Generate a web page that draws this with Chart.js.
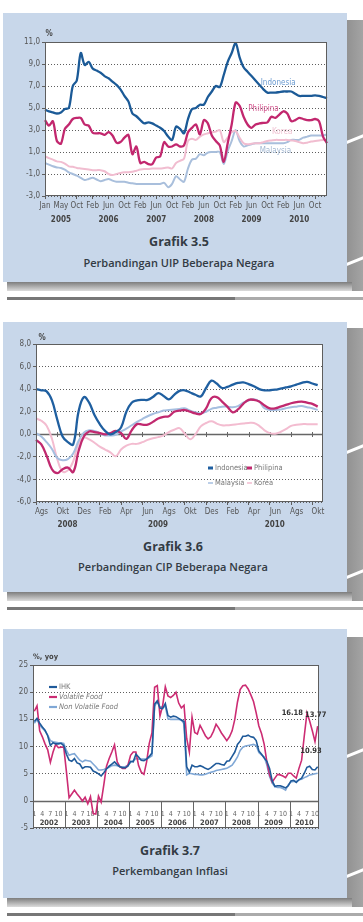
<!DOCTYPE html>
<html lang="id">
<head>
<meta charset="UTF-8">
<title>Grafik 3.5 - 3.7</title>
<style>
    body { margin: 0; width: 363px; height: 922px; background: #fff; position: relative; overflow: hidden; font-family: 'Open Sans', sans-serif; }
    .panel { position: absolute; left: 3px; width: 344px; background: #c8d7ea; }
    .shade { position: absolute; left: 340px; width: 23px; background: linear-gradient(to right, #8a8a8a, #a4a4a4); overflow: hidden; }
    .shade-b { position: absolute; left: 7px; width: 345px; height: 9px; background: linear-gradient(to bottom, #7d7d7d, #dcdcdc); }
    .streak { position: absolute; left: -6px; width: 40px; height: 3px; background: #fff; transform: rotate(-22deg); }
    .rule { position: absolute; left: 7px; width: 356px; height: 3px; background: linear-gradient(to right, #777 0, #777 64%, #ababab 64%, #ababab 100%); }
    .chart { position: absolute; }
    .caption { position: absolute; width: 300px; text-align: center; color: #333b44; font-weight: 700; font-size: 12.5px; line-height: 16px; }
    .subcaption { position: absolute; width: 300px; text-align: center; color: #333b44; font-weight: 600; font-size: 11px; line-height: 14px; }
</style>
</head>
<body>

<!-- Grafik 3.5 -->
<div class="shade" style="top:20px;height:271px"><div class="streak" style="top:118px"></div><div class="streak" style="top:240px"></div></div>
<div class="shade-b" style="top:282px"></div>
<div class="panel" style="top:13px;height:269px"></div>
<div class="rule" style="top:297px"></div>
<div class="chart" style="left:4px;top:28px"><canvas id="uipChart" width="340" height="200"></canvas></div>
<div class="caption" style="left:29px;top:234px">Grafik 3.5</div>
<div class="subcaption" style="left:29px;top:256px">Perbandingan UIP Beberapa Negara</div>

<!-- Grafik 3.6 -->
<div class="shade" style="top:328px;height:273px"><div class="streak" style="top:120px"></div><div class="streak" style="top:245px"></div></div>
<div class="shade-b" style="top:592px"></div>
<div class="panel" style="top:322px;height:270px"></div>
<div class="rule" style="top:607px"></div>
<div class="chart" style="left:4px;top:330px"><canvas id="cipChart" width="340" height="205"></canvas></div>
<div class="caption" style="left:23px;top:539px">Grafik 3.6</div>
<div class="subcaption" style="left:23px;top:560px">Perbandingan CIP Beberapa Negara</div>

<!-- Grafik 3.7 -->
<div class="shade" style="top:637px;height:270px"><div class="streak" style="top:115px"></div><div class="streak" style="top:235px"></div></div>
<div class="shade-b" style="top:898px"></div>
<div class="panel" style="top:629px;height:269px"></div>
<div class="rule" style="top:913px"></div>
<div class="chart" style="left:4px;top:650px"><canvas id="inflChart" width="322" height="185"></canvas></div>
<div class="caption" style="left:20px;top:843px">Grafik 3.7</div>
<div class="subcaption" style="left:20px;top:864px">Perkembangan Inflasi</div>

<script src="https://cdn.jsdelivr.net/npm/chart.js@4"></script>
<script>
    // ---------- Grafik 3.5 : UIP (bulanan, Jan 2005 - Des 2010) ----------
    const uipYears = ['2005', '2006', '2007', '2008', '2009', '2010'];
    const uipTicks = ['Jan', 'May', 'Oct', 'Feb', 'Jun', 'Oct', 'Feb', 'Jun', 'Oct', 'Feb', 'Jun', 'Oct', 'Feb', 'Jun', 'Oct', 'Feb', 'Jun', 'Oct'];
    const uipIndonesia = [4.85, 4.7, 4.6, 4.5, 4.6, 4.9, 5.0, 7.0, 7.5, 10.0, 8.9, 9.2,
        8.6, 8.4, 8.2, 7.9, 7.7, 7.4, 7.1, 6.7, 6.1, 5.6, 4.5, 4.25,
        3.9, 3.6, 3.7, 3.6, 3.4, 3.2, 2.9, 2.4, 2.1, 3.3, 3.1, 2.7,
        4.0, 4.9, 5.0, 5.3, 5.3, 6.0, 6.5, 7.0, 6.9, 8.0, 9.2, 10.0,
        10.9, 9.6, 8.7, 8.3, 7.9, 7.5, 7.1, 6.7, 6.4, 6.4, 6.4, 6.45,
        6.5, 6.5, 6.5, 6.3, 6.1, 6.1, 6.1, 6.1, 6.15, 6.1, 6.0, 5.9];
    const uipPhilipina = [3.9, 3.4, 3.8, 2.0, 1.75, 3.1, 3.5, 4.0, 4.1, 4.1, 3.5, 3.4,
        2.75, 2.7, 2.7, 2.55, 2.8, 2.5, 1.85, 1.9, 2.3, 2.55, 0.8, 1.5,
        0.0, 0.1, -0.1, -0.1, 0.5, 0.6, 1.9, 1.5, 1.5, 1.7, 1.5, 1.6,
        2.8, 3.2, 3.5, 2.6, 3.9, 3.6, 2.5, 2.0, 1.6, 0.1, 1.8, 3.5,
        5.5, 5.2, 4.2, 3.5, 3.2, 3.5, 3.6, 3.65, 3.7, 4.2, 4.1, 4.4,
        4.7, 4.5, 3.8, 3.9, 4.1, 4.0, 3.9, 3.9, 4.0, 3.8, 2.4, 1.8];
    const uipKorea = [0.6, 0.45, 0.3, 0.15, 0.1, -0.05, -0.3, -0.35, -0.45, -0.5, -0.55, -0.6,
        -0.65, -0.65, -0.65, -0.75, -1.0, -1.1, -1.0, -0.9, -0.85, -0.85, -0.8, -0.7,
        -0.6, -0.55, -0.55, -0.5, -0.5, -0.5, -0.45, -0.4, -0.5, 0.0, 0.2, 0.4,
        2.0, 2.2, 2.1, 2.4, 2.6, 2.7, 2.8, 2.85, 3.0, 1.9, 2.3, 2.8,
        2.9, 2.3, 1.8, 1.7, 1.75, 1.8, 1.8, 1.9, 2.0, 2.05, 2.1, 2.1,
        2.1, 2.1, 2.05, 2.0, 1.9, 1.8, 1.85, 1.95, 2.0, 2.05, 2.1, 2.1];
    const uipMalaysia = [0.0, -0.15, -0.3, -0.4, -0.45, -0.6, -0.85, -1.0, -1.15, -1.35, -1.55, -1.45,
        -1.35, -1.5, -1.65, -1.55, -1.45, -1.6, -1.7, -1.7, -1.7, -1.8, -1.85, -1.9,
        -1.9, -1.9, -1.9, -1.9, -1.9, -1.9, -1.8, -2.2, -1.9, -1.2, -1.5, -1.7,
        -0.5, 0.3, 0.4, 0.8, 0.7, 0.95, 1.0, 1.0, 1.0, -0.1, 1.1, 2.0,
        3.0, 2.0, 1.5, 1.6, 1.7, 1.8, 1.8, 1.8, 1.8, 1.8, 1.8, 1.8,
        1.8, 1.9, 2.1, 2.1, 2.1, 2.3, 2.4, 2.5, 2.5, 2.5, 2.5, 2.6];

    // ---------- Grafik 3.6 : CIP (setengah bulanan, Ags 2008 - Okt 2010) ----------
    const cipYears = ['2008', '2009', '2010'];
    const cipTicks = ['Ags', 'Okt', 'Des', 'Feb', 'Apr', 'Jun', 'Ags', 'Okt', 'Des', 'Feb', 'Apr', 'Jun', 'Ags', 'Okt'];
    const cipIndonesia = [4.0, 3.9, 3.8, 3.0, 1.3, -0.2, -0.7, -0.9, 2.0, 3.3,
        2.8, 1.7, 0.9, 0.3, 0.0, 0.2, 0.6, 2.0, 2.8, 3.0,
        3.05, 3.05, 3.3, 3.65, 3.4, 3.1, 3.5, 3.85, 3.9, 3.7,
        3.5, 3.35, 4.1, 4.75, 4.5, 4.1, 4.2, 4.4, 4.55, 4.6,
        4.45, 4.25, 4.0, 3.9, 3.9, 3.95, 4.05, 4.15, 4.25, 4.4,
        4.55, 4.65, 4.5, 4.35];
    const cipPhilipina = [-0.5, -0.9, -1.9, -3.1, -3.45, -3.1, -2.95, -3.35, -1.5, -0.2,
        0.25, 0.2, 0.1, 0.0, 0.1, 0.3, 0.1, -0.4, 0.35, 0.9,
        0.85, 0.85, 1.1, 1.4, 1.55, 1.6, 2.0, 2.1, 2.15, 2.0,
        1.85, 1.8, 2.3, 3.2, 3.3, 2.9, 2.45, 1.95, 2.2, 2.7,
        3.05, 3.05, 2.9, 2.55, 2.3, 2.3, 2.45, 2.6, 2.75, 2.85,
        2.9, 2.8, 2.7, 2.45];
    const cipMalaysia = [0.1, -0.2, -0.7, -1.3, -2.1, -2.3, -2.2, -1.7, -0.6, 0.15,
        0.35, 0.3, 0.1, -0.1, -0.1, -0.05, 0.25, 0.5, 0.8, 1.1,
        1.35, 1.6, 1.8, 1.95, 2.1, 2.15, 2.2, 2.25, 2.3, 2.1,
        1.95, 1.85, 2.0, 2.25, 2.35, 2.45, 2.45, 2.4, 2.5, 2.8,
        3.0, 3.1, 2.9, 2.3, 2.15, 2.15, 2.2, 2.3, 2.4, 2.45,
        2.5, 2.4, 2.3, 2.15];
    const cipKorea = [1.4, 1.2, 0.75, -0.4, -2.2, -3.3, -3.2, -2.4, -0.8, -0.3,
        -0.45, -0.75, -1.1, -1.35, -1.6, -1.95, -1.35, -1.0, -0.85, -0.85,
        -0.7, -0.5, -0.35, -0.25, -0.1, 0.2, 0.4, 0.55, 0.05, -0.45,
        0.0, 0.7, 1.0, 1.15, 0.95, 0.8, 0.8, 0.85, 0.9, 0.95,
        1.0, 1.0, 0.75, 0.35, 0.1, 0.05, 0.2, 0.45, 0.75, 0.85,
        0.9, 0.9, 0.9, 0.9];

    // ---------- Grafik 3.7 : Inflasi (% yoy, Jan 2002 - Nov 2010) ----------
    const inflYears = ['2002', '2003', '2004', '2005', '2006', '2007', '2008', '2009', '2010'];
    const inflTicks = ['1', '4', '7', '10'];
    const ihk = [14.6, 15.2, 14.3, 13.6, 13.0, 12.0, 10.2, 10.7, 10.5, 10.5, 10.6, 10.2,
        8.6, 7.5, 7.3, 7.8, 7.0, 6.8, 6.0, 6.3, 6.3, 6.2, 5.5, 5.3,
        5.0, 4.6, 5.2, 5.9, 6.4, 6.8, 7.2, 6.7, 6.3, 6.1, 6.1, 6.4,
        7.3, 7.2, 8.6, 8.1, 7.5, 7.4, 7.7, 8.2, 8.8, 17.8, 18.4, 17.1,
        17.0, 17.9, 15.7, 15.4, 15.6, 15.5, 15.2, 14.9, 14.6, 6.3, 5.3, 6.6,
        6.3, 6.3, 6.5, 6.3, 6.0, 5.8, 6.1, 6.5, 6.9, 6.9, 6.7, 6.6,
        7.3, 7.4, 8.2, 9.0, 10.4, 11.0, 11.9, 11.9, 12.1, 11.8, 11.7, 11.1,
        9.2, 8.6, 7.9, 7.3, 6.0, 3.7, 2.7, 2.8, 2.8, 2.6, 2.4, 2.8,
        3.7, 3.8, 3.4, 3.9, 4.2, 5.1, 6.2, 6.4, 5.8, 5.7, 6.3];
    const volatileFood = [16.5, 17.5, 12.9, 11.8, 10.5, 9.4, 7.1, 9.0, 10.4, 9.8, 9.9, 9.9,
        5.4, 0.6, 1.3, 2.0, 1.3, 0.7, 0.0, 0.7, -0.5, 0.8, -2.3, -2.4,
        0.9, -0.2, 3.0, 6.4, 7.8, 9.0, 10.3, 7.2, 6.3, 6.0, 6.0, 6.6,
        8.4, 9.0, 9.0, 6.5, 5.3, 4.9, 7.2, 10.6, 12.5, 20.9, 21.2, 15.6,
        17.5, 21.0, 19.3, 19.0, 19.4, 20.0, 18.0, 17.1, 17.6, 11.5, 9.0, 15.4,
        12.6, 12.3, 13.9, 13.0, 12.0, 11.4, 11.8, 12.8, 14.1, 13.4, 12.5, 11.8,
        11.1, 11.8, 12.9, 15.0, 18.2, 20.5, 21.2, 21.3, 20.6, 19.5, 18.3, 16.2,
        13.8, 12.4, 10.4, 7.2, 4.8, 3.5, 4.2, 4.9, 4.8, 4.6, 4.3, 5.1,
        5.1, 4.6, 4.2, 6.0, 7.5, 12.0, 16.18, 14.7, 12.9, 10.93, 13.77];
    const nonVolatileFood = [14.3, 15.0, 13.9, 13.4, 12.9, 12.1, 11.1, 10.9, 10.8, 10.7, 10.7, 10.6,
        9.3, 8.4, 8.6, 8.7, 8.1, 7.5, 7.2, 7.5, 7.4, 7.3, 6.8, 6.3,
        5.7, 5.7, 5.8, 6.0, 6.2, 6.5, 6.6, 6.5, 6.3, 6.3, 6.3, 6.6,
        7.1, 7.4, 7.8, 7.7, 7.7, 7.7, 7.7, 8.0, 8.3, 17.4, 18.3, 17.3,
        17.3, 17.4, 15.1, 15.0, 15.0, 15.0, 15.0, 14.9, 14.2, 4.8, 5.1, 5.0,
        4.9, 4.9, 4.8, 4.8, 4.9, 5.1, 5.3, 5.4, 5.6, 5.7, 5.8, 5.9,
        6.0, 6.3, 6.6, 7.3, 8.1, 9.3, 9.9, 10.1, 10.2, 10.3, 10.4, 10.2,
        8.9, 8.5, 8.1, 6.6, 4.5, 3.3, 2.6, 2.5, 2.5, 2.3, 2.0, 3.0,
        3.5, 3.6, 3.6, 3.9, 4.0, 4.3, 4.5, 4.8, 4.9, 5.0, 5.1];
    // angka yang ditulis di grafik (indeks bulan pada seri Volatile Food)
    const inflNotes = [
        { index: 102, text: '16.18', align: 'right', dx: -4, dy: 0 },
        { index: 106, text: '13.77', align: 'center', dx: -2, dy: -11 },
        { index: 105, text: '10.93', align: 'center', dx: -4, dy: 10 }
    ];

    const monthNames = ['Jan', 'Feb', 'Mar', 'Apr', 'Mei', 'Jun', 'Jul', 'Ags', 'Sep', 'Okt', 'Nov', 'Des'];
    const FONT = "'Liberation Sans Narrow', 'DejaVu Sans Condensed', 'Liberation Sans', sans-serif";
    const GRID = '#5e5e5e';

    Chart.defaults.font.family = FONT;
    Chart.defaults.font.size = 8;
    Chart.defaults.color = '#555';

    // kategori bulanan / setengah bulanan
    function monthLabels(firstYear, firstMonth, count) {
        const out = [];
        for (let i = 0; i < count; i++) {
            const m = firstMonth + i;
            out.push(monthNames[m % 12] + ' ' + (firstYear + Math.floor(m / 12)));
        }
        return out;
    }
    const uipCats = monthLabels(2005, 0, uipIndonesia.length);
    const inflCats = monthLabels(2002, 0, ihk.length);
    const cipCats = [];
    monthLabels(2008, 7, 28).forEach(m => { cipCats.push(m + ' I', m + ' II'); });
    cipCats.length = cipIndonesia.length + 1;

    function serie(label, data, color, width, tension) {
        return { label: label, data: data, borderColor: color, backgroundColor: color,
                 borderWidth: width, pointRadius: 0, tension: tension, fill: false };
    }

    function drawText(ctx, str, x, y, font, color, align) {
        ctx.save();
        ctx.font = font;
        ctx.fillStyle = color;
        ctx.textAlign = align || 'center';
        ctx.textBaseline = 'middle';
        ctx.fillText(str, x, y);
        ctx.restore();
    }

    function hLine(ctx, x1, x2, y, color, width) {
        ctx.save();
        ctx.strokeStyle = color;
        ctx.lineWidth = width;
        ctx.beginPath();
        ctx.moveTo(x1, y);
        ctx.lineTo(x2, y);
        ctx.stroke();
        ctx.restore();
    }

    // latar putih dan bingkai area plot
    const framePlugin = {
        id: 'frame',
        beforeDraw(chart) {
            const a = chart.chartArea;
            chart.ctx.save();
            chart.ctx.fillStyle = '#fff';
            chart.ctx.fillRect(a.left, a.top, a.right - a.left, a.bottom - a.top);
            chart.ctx.restore();
        },
        afterDatasetsDraw(chart) {
            const a = chart.chartArea, ctx = chart.ctx;
            ctx.save();
            ctx.strokeStyle = GRID;
            ctx.lineWidth = 1;
            ctx.strokeRect(Math.round(a.left) + 0.5, Math.round(a.top) + 0.5,
                           Math.round(a.right - a.left) - 1, Math.round(a.bottom - a.top) - 1);
            ctx.restore();
        }
    };

    function commaTick(v) { return v.toFixed(1).replace('.', ','); }

    function yScale(min, max, step, width, fmt) {
        return {
            min: min, max: max,
            ticks: { stepSize: step, padding: 2, callback: fmt, color: '#555' },
            grid: { color: GRID, tickLength: 3, tickColor: GRID },
            border: { display: false, dash: [1, 2] },
            afterFit: s => { s.width = width; }
        };
    }

    // ---------- Grafik 3.5 ----------
    const uipText = {
        id: 'uipText',
        afterDraw(chart) {
            const ctx = chart.ctx, x = chart.scales.x, y = chart.scales.y, a = chart.chartArea;
            uipYears.forEach((yr, k) => {
                drawText(ctx, yr, x.getPixelForValue(12 * k + 4), a.bottom + 24, 'bold 8px ' + FONT, '#444');
            });
            drawText(ctx, '%', a.left + 4, a.top - 8, 'bold 8px ' + FONT, '#444');
            const names = chart.options.plugins.uipText.names;
            names.forEach(n => {
                drawText(ctx, n.text, x.getPixelForValue(n.at), y.getPixelForValue(n.v), '8px ' + FONT, n.color);
            });
        }
    };

    new Chart(document.getElementById('uipChart'), {
        type: 'line',
        data: {
            labels: uipCats,
            datasets: [
                serie('Indonesia', uipIndonesia, '#1b5a97', 2.3, 0.3),
                serie('Philipina', uipPhilipina, '#c2276e', 2.3, 0.3),
                serie('Korea', uipKorea, '#f1bdd0', 2, 0.3),
                serie('Malaysia', uipMalaysia, '#a9bfdc', 2, 0.3)
            ]
        },
        options: {
            responsive: false,
            animation: false,
            layout: { padding: { top: 14, right: 17 } },
            plugins: {
                legend: { display: false },
                tooltip: { enabled: false },
                uipText: {
                    names: [
                        { text: 'Indonesia', at: 58.7, v: 7.3, color: '#6b9bd0' },
                        { text: 'Philipina', at: 55, v: 4.9, color: '#d2538c' },
                        { text: 'Korea', at: 59.7, v: 2.85, color: '#f0c4d3' },
                        { text: 'Malaysia', at: 58, v: 1.1, color: '#a3b8d2' }
                    ]
                }
            },
            scales: {
                x: {
                    grid: { drawOnChartArea: false, tickLength: 3, color: GRID },
                    border: { display: false },
                    ticks: { autoSkip: false, maxRotation: 0, padding: 2, color: '#555',
                             callback: v => uipTicks[v / 4] },
                    afterBuildTicks: s => { s.ticks = s.ticks.filter(t => t.value % 4 === 0 && t.value / 4 < uipTicks.length); },
                    afterFit: s => { s.height = 32; }
                },
                y: yScale(-3, 11, 2, 41, commaTick)
            }
        },
        plugins: [framePlugin, uipText]
    });

    // ---------- Grafik 3.6 ----------
    const cipText = {
        id: 'cipText',
        beforeDatasetsDraw(chart) {
            const ctx = chart.ctx, x = chart.scales.x, y = chart.scales.y, a = chart.chartArea;
            const y0 = Math.round(y.getPixelForValue(0)) + 0.5;
            hLine(ctx, a.left, a.right, y0, '#666', 1.6);
            // tanda kecil pada garis nol
            ctx.save();
            ctx.strokeStyle = '#666';
            ctx.lineWidth = 1;
            for (let j = 4; j < cipCats.length; j += 4) {
                const px = Math.round(x.getPixelForValue(j)) + 0.5;
                ctx.beginPath(); ctx.moveTo(px, y0 - 2.5); ctx.lineTo(px, y0 + 2.5); ctx.stroke();
            }
            ctx.restore();
        },
        afterDraw(chart) {
            const ctx = chart.ctx, x = chart.scales.x, a = chart.chartArea;
            // tahun di tengah rentang masing-masing
            cipYears.forEach(yr => {
                const idx = cipCats.map((c, i) => c.indexOf(yr) >= 0 ? i : -1).filter(i => i >= 0);
                const first = idx[0], last = Math.min(idx[idx.length - 1] + 1, cipCats.length - 1);
                const px = (x.getPixelForValue(first) + x.getPixelForValue(last)) / 2 + 5;
                drawText(ctx, yr, px, a.bottom + 23, 'bold 8px ' + FONT, '#444');
            });
            drawText(ctx, '%', a.left + 6, a.top - 6, 'bold 8px ' + FONT, '#444');
            // legenda di dalam plot
            const items = chart.options.plugins.cipText.legend;
            items.forEach(it => {
                const lx = a.left + it.dx, ly = a.top + it.dy;
                hLine(ctx, lx, lx + 5, ly, it.color, it.thick);
                drawText(ctx, it.text, lx + 7, ly, '7.5px ' + FONT, '#777', 'left');
            });
        }
    };

    new Chart(document.getElementById('cipChart'), {
        type: 'line',
        data: {
            labels: cipCats,
            datasets: [
                serie('Indonesia', cipIndonesia, '#1f5fa0', 2.3, 0.4),
                serie('Philipina', cipPhilipina, '#c1296f', 2.3, 0.4),
                serie('Malaysia', cipMalaysia, '#a6bfe0', 2, 0.4),
                serie('Korea', cipKorea, '#f3bcd0', 2, 0.4)
            ]
        },
        options: {
            responsive: false,
            animation: false,
            layout: { padding: { top: 14, right: 21 } },
            plugins: {
                legend: { display: false },
                tooltip: { enabled: false },
                cipText: {
                    legend: [
                        { text: 'Indonesia', color: '#1f5fa0', thick: 3, dx: 172, dy: 124 },
                        { text: 'Philipina', color: '#c1296f', thick: 3, dx: 211, dy: 124 },
                        { text: 'Malaysia', color: '#a6bfe0', thick: 1.5, dx: 172, dy: 139 },
                        { text: 'Korea', color: '#f3bcd0', thick: 1.5, dx: 211, dy: 139 }
                    ]
                }
            },
            scales: {
                x: {
                    grid: { drawOnChartArea: false, tickLength: 3, color: GRID },
                    border: { display: false },
                    ticks: { autoSkip: false, maxRotation: 0, padding: 2, labelOffset: 5.5, color: '#555',
                             callback: v => cipTicks[v / 4] },
                    afterBuildTicks: s => { s.ticks = s.ticks.filter(t => t.value % 4 === 0 && t.value / 4 < cipTicks.length); },
                    afterFit: s => { s.height = 33; }
                },
                y: yScale(-6, 8, 2, 32, commaTick)
            }
        },
        plugins: [framePlugin, cipText]
    });

    // ---------- Grafik 3.7 ----------
    const inflText = {
        id: 'inflText',
        beforeDatasetsDraw(chart) {
            const ctx = chart.ctx, x = chart.scales.x, y = chart.scales.y, a = chart.chartArea;
            const y0 = Math.round(y.getPixelForValue(0)) + 0.5;
            hLine(ctx, a.left, a.right, y0, '#666', 1.4);
            // pemisah tahun di bawah garis nol
            ctx.save();
            ctx.strokeStyle = '#666';
            ctx.lineWidth = 1;
            for (let i = 12; i < inflCats.length; i += 12) {
                const px = Math.round((x.getPixelForValue(i - 1) + x.getPixelForValue(i)) / 2) + 0.5;
                ctx.beginPath(); ctx.moveTo(px, y0); ctx.lineTo(px, a.bottom); ctx.stroke();
            }
            ctx.restore();
            // bulan 1 4 7 10 dan tahun
            for (let i = 0; i < inflCats.length; i++) {
                if (i % 3 === 0) {
                    drawText(ctx, inflTicks[(i % 12) / 3], x.getPixelForValue(i), a.bottom - 14, '7px ' + FONT, '#666');
                }
            }
            inflYears.forEach((yr, k) => {
                const last = Math.min(12 * k + 11, inflCats.length - 1);
                const px = (x.getPixelForValue(12 * k) + x.getPixelForValue(last)) / 2;
                drawText(ctx, yr, px, a.bottom - 5, 'bold 7.5px ' + FONT, '#444');
            });
        },
        afterDraw(chart) {
            const ctx = chart.ctx, a = chart.chartArea;
            drawText(ctx, '%, yoy', a.left, a.top - 8, 'bold 7.5px ' + FONT, '#444', 'left');
            const items = chart.options.plugins.inflText.legend;
            items.forEach((it, k) => {
                const ly = a.top + 22 + k * 10;
                hLine(ctx, a.left + 16, a.left + 24, ly, it.color, 2.2);
                drawText(ctx, it.text, a.left + 26, ly, it.font + ' 7.5px ' + FONT, '#777', 'left');
            });
            const meta = chart.getDatasetMeta(1);
            inflNotes.forEach(n => {
                const p = meta.data[n.index];
                drawText(ctx, n.text, p.x + n.dx, p.y + n.dy, 'bold 7.5px ' + FONT, '#333', n.align);
            });
        }
    };

    new Chart(document.getElementById('inflChart'), {
        type: 'line',
        data: {
            labels: inflCats,
            datasets: [
                serie('IHK', ihk, '#1f5a9a', 1.6, 0),
                serie('Volatile Food', volatileFood, '#cc2c73', 1.6, 0),
                serie('Non Volatile Food', nonVolatileFood, '#80a8d6', 1.6, 0)
            ]
        },
        options: {
            responsive: false,
            animation: false,
            layout: { padding: { top: 15, right: 7, bottom: 4 } },
            plugins: {
                legend: { display: false },
                tooltip: { enabled: false },
                inflText: {
                    legend: [
                        { text: 'IHK', color: '#1f5a9a', font: 'normal' },
                        { text: 'Volatile Food', color: '#cc2c73', font: 'italic' },
                        { text: 'Non Volatile Food', color: '#80a8d6', font: 'italic' }
                    ]
                }
            },
            scales: {
                x: { display: false, offset: true },
                y: yScale(-5, 25, 5, 29, v => String(v))
            }
        },
        plugins: [framePlugin, inflText]
    });
</script>

</body>
</html>
